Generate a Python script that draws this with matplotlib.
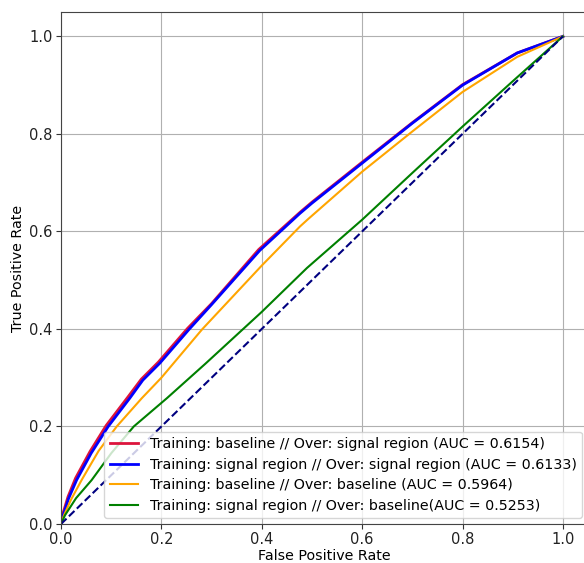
import numpy as np
import matplotlib; matplotlib.use("Agg")
import matplotlib.pyplot as plt

# ROC points
fpr_sig_base = [0.0, 0.004, 0.014, 0.029, 0.058, 0.09, 0.133, 0.16, 0.194, 0.252, 0.30, 0.394, 0.476, 0.50, 0.60, 0.70, 0.80, 0.909, 1.0]
tpr_sig_base = [0.0, 0.022, 0.056, 0.094, 0.149, 0.202, 0.26, 0.297, 0.332, 0.401, 0.452, 0.563, 0.639, 0.66, 0.742, 0.823, 0.901, 0.966, 1.0]

fpr_sig_sig = [0.0, 0.005, 0.015, 0.031, 0.06, 0.094, 0.137, 0.163, 0.197, 0.255, 0.30, 0.396, 0.476, 0.50, 0.60, 0.70, 0.80, 0.909, 1.0]
tpr_sig_sig = [0.0, 0.02, 0.052, 0.09, 0.145, 0.20, 0.258, 0.295, 0.33, 0.399, 0.45, 0.561, 0.637, 0.658, 0.740, 0.822, 0.900, 0.966, 1.0]

fpr_base_base = [0.0, 0.006, 0.02, 0.041, 0.075, 0.111, 0.161, 0.20, 0.281, 0.40, 0.476, 0.492, 0.60, 0.70, 0.80, 0.909, 1.0]
tpr_base_base = [0.0, 0.018, 0.05, 0.09, 0.15, 0.20, 0.258, 0.30, 0.399, 0.53, 0.61, 0.625, 0.7225, 0.805, 0.886, 0.958, 1.0]

fpr_sr_base = [0.0, 0.008, 0.03, 0.061, 0.10, 0.145, 0.211, 0.288, 0.40, 0.49, 0.60, 0.70, 0.80, 0.90, 1.0]
tpr_sr_base = [0.0, 0.018, 0.053, 0.09, 0.145, 0.20, 0.258, 0.329, 0.435, 0.525, 0.624, 0.72, 0.815, 0.908, 1.0]

labels = ["Training: baseline // Over: signal region (AUC = 0.6154)",
          "Training: signal region // Over: signal region (AUC = 0.6133)",
          "Training: baseline // Over: baseline (AUC = 0.5964)",
          "Training: signal region // Over: baseline(AUC = 0.5253)"]

fig = plt.figure(figsize=(5.84, 5.63), dpi=100)
# axes runs a little past the right edge, like the cropped original
ax = fig.add_axes([61/584, 39/563, 527/584, 512/563])

ax.plot(fpr_sig_base, tpr_sig_base, color="crimson", lw=2, label=labels[0])
ax.plot(fpr_sig_sig, tpr_sig_sig, color="blue", lw=2, label=labels[1])
ax.plot(fpr_base_base, tpr_base_base, color="orange", lw=1.5, label=labels[2])
ax.plot(fpr_sr_base, tpr_sr_base, color="green", lw=1.5, label=labels[3])
ax.plot([0, 1], [0, 1], color="navy", lw=1.5, ls="--")

ax.set_xlim(0, 1.05); ax.set_ylim(0, 1.05)
ax.set_xticks(np.arange(0, 1.01, 0.2)); ax.set_yticks(np.arange(0, 1.01, 0.2))
ax.tick_params(labelsize=10.5, color="#333333", labelcolor="#222222", pad=2.5)
ax.set_xlabel("False Positive Rate", fontsize=10.3, labelpad=1)
ax.set_ylabel("True Positive Rate", fontsize=10.3, labelpad=3)
ax.grid(True, color="#b0b0b0", lw=0.8)
for s in ax.spines.values(): s.set_color("#444444")
ax.legend(loc="lower right", fontsize=10.3, handlelength=2, borderaxespad=0.4,
          labelspacing=0.45, handletextpad=0.8)

fig.savefig("out.png", dpi=100)
